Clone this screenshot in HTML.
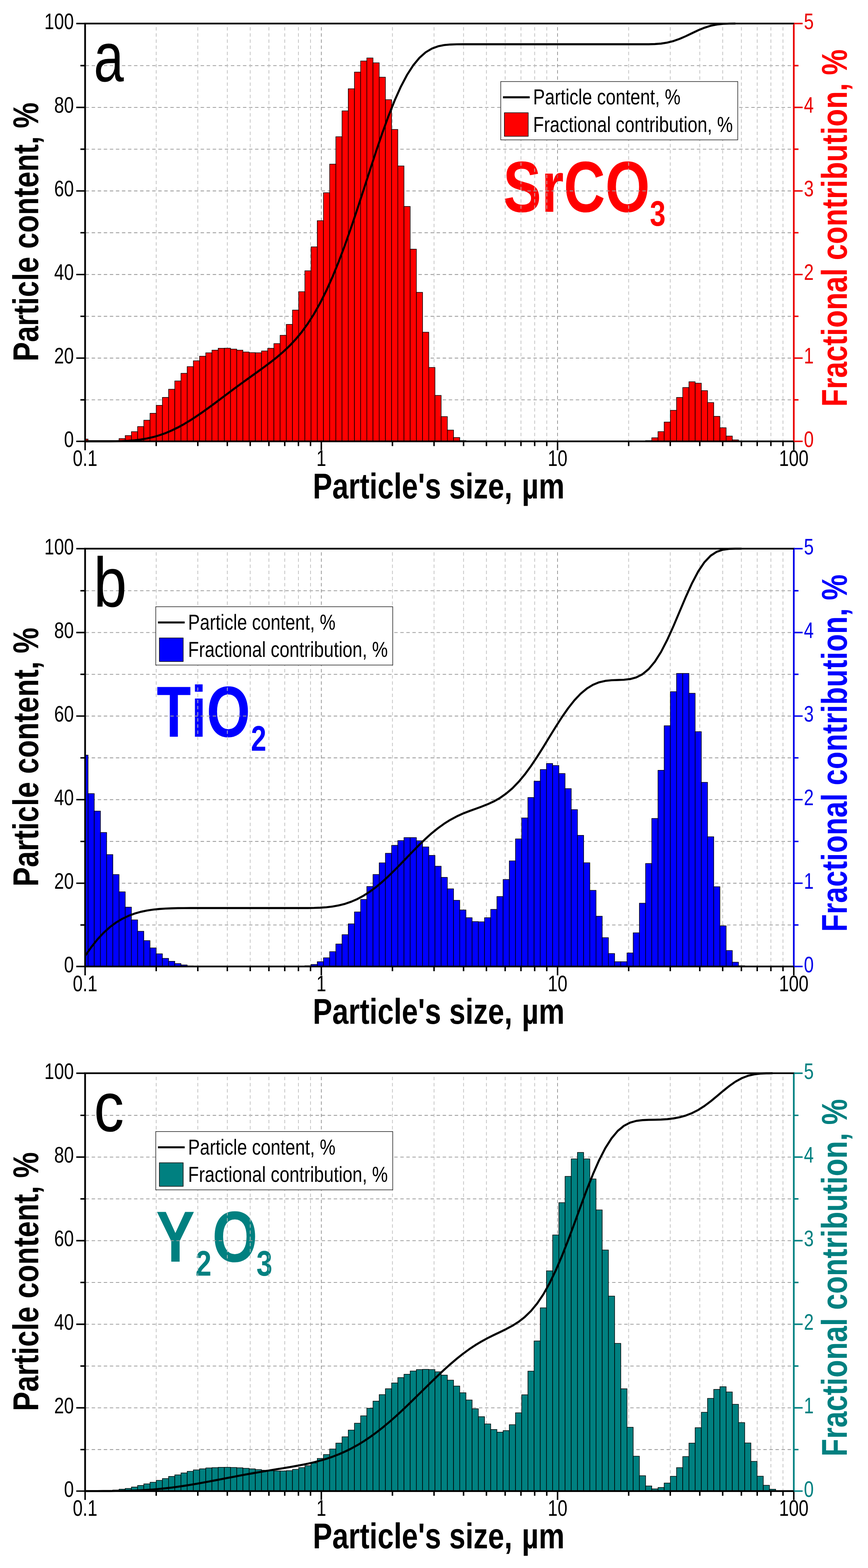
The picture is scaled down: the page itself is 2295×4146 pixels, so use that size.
<!DOCTYPE html>
<html lang="en"><head><meta charset="utf-8"><title>Particle size distributions of SrCO3, TiO2 and Y2O3</title>
<style>html,body{margin:0;padding:0;background:#fff}body{width:2295px;height:4146px}svg{display:block}text{font-kerning:none;text-rendering:geometricPrecision;font-family:"Liberation Sans",Arial,Helvetica,sans-serif}</style>
</head><body>
<svg width="2295" height="4146" viewBox="0 0 2295 4146">
<rect width="2295" height="4146" fill="#fff"/>
<g>
<text transform="translate(1330.12 559.8) scale(0.7952 1)" font-size="191" font-weight="bold" fill="#ff0000"><tspan x="0">SrCO</tspan><tspan x="488.07" dy="37" font-size="94">3</tspan></text>
<path d="M225 1057.32H2098.8M225 946.84H2098.8M225 836.36H2098.8M225 725.88H2098.8M225 615.4H2098.8M225 504.92H2098.8M225 394.44H2098.8M225 283.96H2098.8M225 173.48H2098.8" fill="none" stroke="#9c9c9c" stroke-width="2.1" stroke-dasharray="9 7" stroke-dashoffset="14.6"/>
<path d="M413.02 62.2V1167M523.01 62.2V1167M601.05 62.2V1167M661.58 62.2V1167M711.03 62.2V1167M752.85 62.2V1167M789.07 62.2V1167M821.02 62.2V1167M1037.62 62.2V1167M1147.61 62.2V1167M1225.65 62.2V1167M1286.18 62.2V1167M1335.63 62.2V1167M1377.45 62.2V1167M1413.67 62.2V1167M1445.62 62.2V1167M1662.22 62.2V1167M1772.21 62.2V1167M1850.25 62.2V1167M1910.78 62.2V1167M1960.23 62.2V1167M2002.05 62.2V1167M2038.27 62.2V1167M2070.22 62.2V1167" fill="none" stroke="#c0c0c0" stroke-width="1.9" stroke-dasharray="9.1 7.15" stroke-dashoffset="6.8"/>
<path d="M849.6 62.2V1167M1474.2 62.2V1167" fill="none" stroke="#7d7d7d" stroke-width="1.6" stroke-dasharray="9.1 7.15" stroke-dashoffset="6.8"/>
<g fill="#ff0000" stroke="#000" stroke-width="1.5">
<rect x="225" y="1161" width="7.83" height="6"/>
<rect x="298.35" y="1165.5" width="16.38" height="1.5"/>
<rect x="314.72" y="1159.6" width="16.38" height="7.4"/>
<rect x="331.1" y="1151.7" width="16.38" height="15.3"/>
<rect x="347.48" y="1141.4" width="16.38" height="25.6"/>
<rect x="363.86" y="1127.9" width="16.38" height="39.1"/>
<rect x="380.24" y="1111.1" width="16.38" height="55.9"/>
<rect x="396.62" y="1092.8" width="16.38" height="74.2"/>
<rect x="413" y="1071.8" width="16.38" height="95.2"/>
<rect x="429.38" y="1050.8" width="16.38" height="116.2"/>
<rect x="445.76" y="1029.2" width="16.38" height="137.8"/>
<rect x="462.14" y="1007.3" width="16.38" height="159.7"/>
<rect x="478.51" y="987.1" width="16.38" height="179.9"/>
<rect x="494.89" y="969.4" width="16.38" height="197.6"/>
<rect x="511.27" y="954" width="16.38" height="213"/>
<rect x="527.65" y="941.9" width="16.38" height="225.1"/>
<rect x="544.03" y="932.9" width="16.38" height="234.1"/>
<rect x="560.41" y="925.9" width="16.38" height="241.1"/>
<rect x="576.79" y="920.9" width="16.38" height="246.1"/>
<rect x="593.17" y="920.6" width="16.38" height="246.4"/>
<rect x="609.55" y="923.1" width="16.38" height="243.9"/>
<rect x="625.93" y="925.9" width="16.38" height="241.1"/>
<rect x="642.3" y="930.7" width="16.38" height="236.3"/>
<rect x="658.68" y="932.4" width="16.38" height="234.6"/>
<rect x="675.06" y="932.8" width="16.38" height="234.2"/>
<rect x="691.44" y="928" width="16.38" height="239"/>
<rect x="707.82" y="921" width="16.38" height="246"/>
<rect x="724.2" y="908.5" width="16.38" height="258.5"/>
<rect x="740.58" y="886.6" width="16.38" height="280.4"/>
<rect x="756.96" y="857.7" width="16.38" height="309.3"/>
<rect x="773.34" y="819.9" width="16.38" height="347.1"/>
<rect x="789.72" y="771.3" width="16.38" height="395.7"/>
<rect x="806.09" y="716" width="16.38" height="451"/>
<rect x="822.47" y="652.7" width="16.38" height="514.3"/>
<rect x="838.85" y="583.5" width="16.38" height="583.5"/>
<rect x="855.23" y="509.6" width="16.38" height="657.4"/>
<rect x="871.61" y="434" width="16.38" height="733"/>
<rect x="887.99" y="361.5" width="16.38" height="805.5"/>
<rect x="904.37" y="293.2" width="16.38" height="873.8"/>
<rect x="920.75" y="234.7" width="16.38" height="932.3"/>
<rect x="937.13" y="190.6" width="16.38" height="976.4"/>
<rect x="953.51" y="161.3" width="16.38" height="1005.7"/>
<rect x="969.88" y="153.3" width="16.38" height="1013.7"/>
<rect x="986.26" y="166.1" width="16.38" height="1000.9"/>
<rect x="1002.64" y="204.1" width="16.38" height="962.9"/>
<rect x="1019.02" y="263.6" width="16.38" height="903.4"/>
<rect x="1035.4" y="342.3" width="16.38" height="824.7"/>
<rect x="1051.78" y="438.8" width="16.38" height="728.2"/>
<rect x="1068.16" y="545.9" width="16.38" height="621.1"/>
<rect x="1084.54" y="658.8" width="16.38" height="508.2"/>
<rect x="1100.92" y="773" width="16.38" height="394"/>
<rect x="1117.3" y="878.4" width="16.38" height="288.6"/>
<rect x="1133.67" y="971.6" width="16.38" height="195.4"/>
<rect x="1150.05" y="1045.5" width="16.38" height="121.5"/>
<rect x="1166.43" y="1101.5" width="16.38" height="65.5"/>
<rect x="1182.81" y="1137.2" width="16.38" height="29.8"/>
<rect x="1199.19" y="1156.9" width="16.38" height="10.1"/>
<rect x="1215.57" y="1165" width="16.38" height="2"/>
<rect x="1706.94" y="1165" width="16.38" height="2"/>
<rect x="1723.32" y="1157.5" width="16.38" height="9.5"/>
<rect x="1739.7" y="1141.3" width="16.38" height="25.7"/>
<rect x="1756.08" y="1116" width="16.38" height="51"/>
<rect x="1772.46" y="1085" width="16.38" height="82"/>
<rect x="1788.83" y="1050.9" width="16.38" height="116.1"/>
<rect x="1805.21" y="1024.6" width="16.38" height="142.4"/>
<rect x="1821.59" y="1009.4" width="16.38" height="157.6"/>
<rect x="1837.97" y="1013.2" width="16.38" height="153.8"/>
<rect x="1854.35" y="1032.9" width="16.38" height="134.1"/>
<rect x="1870.73" y="1064.4" width="16.38" height="102.6"/>
<rect x="1887.11" y="1100.9" width="16.38" height="66.1"/>
<rect x="1903.49" y="1131" width="16.38" height="36"/>
<rect x="1919.87" y="1153" width="16.38" height="14"/>
<rect x="1936.25" y="1163.1" width="16.38" height="3.9"/>
</g>
<polyline points="225,1166.7 241.02,1166.7 257.4,1166.7 273.78,1166.7 290.16,1166.7 306.53,1166.62 322.91,1166.25 339.29,1165.49 355.67,1164.21 372.05,1162.25 388.43,1159.46 404.81,1155.74 421.19,1150.98 437.57,1145.17 453.95,1138.27 470.33,1130.28 486.7,1121.28 503.08,1111.4 519.46,1100.74 535.84,1089.48 552.22,1077.77 568.6,1065.71 584.98,1053.39 601.36,1041.07 617.74,1028.86 634.12,1016.8 650.49,1004.98 666.87,993.24 683.25,981.53 699.63,969.57 716.01,957.26 732.39,944.33 748.77,930.3 765.15,914.83 781.53,897.46 797.91,877.66 814.28,855.1 830.66,829.37 847.04,800.18 863.42,767.29 879.8,730.62 896.18,690.32 912.56,646.6 928.94,599.96 945.32,551.11 961.7,500.8 978.07,450.08 994.45,400.01 1010.83,351.84 1027.21,306.64 1043.59,265.38 1059.97,228.95 1076.35,197.87 1092.73,172.45 1109.11,152.74 1125.49,138.3 1141.86,128.52 1158.24,122.45 1174.62,119.17 1191,117.68 1207.38,117.17 1223.76,117.07 1240.14,117.07 1256.52,117.07 1272.9,117.07 1289.28,117.07 1305.65,117.07 1322.03,117.07 1338.41,117.07 1354.79,117.07 1371.17,117.07 1387.55,117.07 1403.93,117.07 1420.31,117.07 1436.69,117.07 1453.07,117.07 1469.44,117.07 1485.82,117.07 1502.2,117.07 1518.58,117.07 1534.96,117.07 1551.34,117.07 1567.72,117.07 1584.1,117.07 1600.48,117.07 1616.86,117.07 1633.23,117.07 1649.61,117.07 1665.99,117.07 1682.37,117.07 1698.75,117.07 1715.13,116.97 1731.51,116.5 1747.89,115.21 1764.27,112.66 1780.64,108.56 1797.02,102.75 1813.4,95.62 1829.78,87.74 1846.16,80.05 1862.54,73.34 1878.92,68.2 1895.3,64.9 1911.68,63.1 1928.06,62.4 1944.43,62.2" fill="none" stroke="#000" stroke-width="5.4" stroke-linejoin="round"/>
<path d="M201.6 1167H225M212.6 1057.32H225M201.6 946.84H225M212.6 836.36H225M201.6 725.88H225M212.6 615.4H225M201.6 504.92H225M212.6 394.44H225M201.6 283.96H225M212.6 173.48H225M201.6 62.2H225M225 1167V1190.4M413.02 1167V1179.4M523.01 1167V1179.4M601.05 1167V1179.4M661.58 1167V1179.4M711.03 1167V1179.4M752.85 1167V1179.4M789.07 1167V1179.4M821.02 1167V1179.4M849.6 1167V1190.4M1037.62 1167V1179.4M1147.61 1167V1179.4M1225.65 1167V1179.4M1286.18 1167V1179.4M1335.63 1167V1179.4M1377.45 1167V1179.4M1413.67 1167V1179.4M1445.62 1167V1179.4M1474.2 1167V1190.4M1662.22 1167V1179.4M1772.21 1167V1179.4M1850.25 1167V1179.4M1910.78 1167V1179.4M1960.23 1167V1179.4M2002.05 1167V1179.4M2038.27 1167V1179.4M2070.22 1167V1179.4M2098.8 1167V1190.4" fill="none" stroke="#000" stroke-width="3.9"/>
<path d="M225 59.9V1169.3M225 1167H2101.1M225 62.2H2101.1" fill="none" stroke="#000" stroke-width="4.6"/>
<path d="M2098.8 1167H2122.2M2098.8 1057.32H2111.2M2098.8 946.84H2122.2M2098.8 836.36H2111.2M2098.8 725.88H2122.2M2098.8 615.4H2111.2M2098.8 504.92H2122.2M2098.8 394.44H2111.2M2098.8 283.96H2122.2M2098.8 173.48H2111.2M2098.8 62.2H2122.2" fill="none" stroke="#ea0000" stroke-width="3.9"/>
<path d="M2098.8 64.5V1164.7" fill="none" stroke="#ea0000" stroke-width="4.4"/>
<text transform="translate(195.3 1182.1) scale(0.786 1)" font-size="59.5" text-anchor="end">0</text>
<text transform="translate(2125.6 1182.1) scale(0.786 1)" font-size="59.5" fill="#ea0000">0</text>
<text transform="translate(195.3 961.14) scale(0.786 1)" font-size="59.5" text-anchor="end">20</text>
<text transform="translate(2125.6 961.14) scale(0.786 1)" font-size="59.5" fill="#ea0000">1</text>
<text transform="translate(195.3 740.18) scale(0.786 1)" font-size="59.5" text-anchor="end">40</text>
<text transform="translate(2125.6 740.18) scale(0.786 1)" font-size="59.5" fill="#ea0000">2</text>
<text transform="translate(195.3 519.22) scale(0.786 1)" font-size="59.5" text-anchor="end">60</text>
<text transform="translate(2125.6 519.22) scale(0.786 1)" font-size="59.5" fill="#ea0000">3</text>
<text transform="translate(195.3 298.26) scale(0.786 1)" font-size="59.5" text-anchor="end">80</text>
<text transform="translate(2125.6 298.26) scale(0.786 1)" font-size="59.5" fill="#ea0000">4</text>
<text transform="translate(195.3 77.3) scale(0.786 1)" font-size="59.5" text-anchor="end">100</text>
<text transform="translate(2125.6 77.3) scale(0.786 1)" font-size="59.5" fill="#ea0000">5</text>
<text transform="translate(225 1232) scale(0.786 1)" font-size="59.5" text-anchor="middle">0.1</text>
<text transform="translate(849.6 1232) scale(0.786 1)" font-size="59.5" text-anchor="middle">1</text>
<text transform="translate(1474.2 1232) scale(0.786 1)" font-size="59.5" text-anchor="middle">10</text>
<text transform="translate(2098.8 1232) scale(0.786 1)" font-size="59.5" text-anchor="middle">100</text>
<text transform="translate(101.2 955.52) rotate(-90) scale(0.8055 1)" font-size="95" font-weight="bold">Particle content, %</text>
<text transform="translate(2239.4 1075.53) rotate(-90) scale(0.8067 1)" font-size="95" font-weight="bold" fill="#ff0000">Fractional contribution, %</text>
<text transform="translate(827.05 1318.4) scale(0.8102 1)" font-size="95" font-weight="bold">Particle&#39;s size, <tspan dx="4.86">µm</tspan></text>
<text transform="translate(247.83 215.2) scale(0.7703 1)" font-size="185.5">a</text>
<rect x="1324" y="215.6" width="626.6" height="154.2" fill="#fff" stroke="#222" stroke-width="1.6"/>
<path d="M1329.8 257.2H1400.5" stroke="#000" stroke-width="5.4"/>
<rect x="1333.6" y="298.1" width="63" height="62.3" fill="#ff0000" stroke="#000" stroke-width="1.5"/>
<text transform="translate(1409.57 276.1) scale(0.813 1)" font-size="57.5">Particle content, %</text>
<text transform="translate(1409.56 348.6) scale(0.814 1)" font-size="57.5">Fractional contribution, %</text>
</g>
<g>
<text transform="translate(414.33 1948.3) scale(0.7769 1)" font-size="191" font-weight="bold" fill="#0000ff"><tspan x="0">TiO</tspan><tspan x="320.88" dy="37" font-size="94">2</tspan></text>
<path d="M225 2445.82H2098.8M225 2335.34H2098.8M225 2224.86H2098.8M225 2114.38H2098.8M225 2003.9H2098.8M225 1893.42H2098.8M225 1782.94H2098.8M225 1672.46H2098.8M225 1561.98H2098.8" fill="none" stroke="#9c9c9c" stroke-width="2.1" stroke-dasharray="9 7" stroke-dashoffset="14.6"/>
<path d="M413.02 1450.7V2555.5M523.01 1450.7V2555.5M601.05 1450.7V2555.5M661.58 1450.7V2555.5M711.03 1450.7V2555.5M752.85 1450.7V2555.5M789.07 1450.7V2555.5M821.02 1450.7V2555.5M1037.62 1450.7V2555.5M1147.61 1450.7V2555.5M1225.65 1450.7V2555.5M1286.18 1450.7V2555.5M1335.63 1450.7V2555.5M1377.45 1450.7V2555.5M1413.67 1450.7V2555.5M1445.62 1450.7V2555.5M1662.22 1450.7V2555.5M1772.21 1450.7V2555.5M1850.25 1450.7V2555.5M1910.78 1450.7V2555.5M1960.23 1450.7V2555.5M2002.05 1450.7V2555.5M2038.27 1450.7V2555.5M2070.22 1450.7V2555.5" fill="none" stroke="#c0c0c0" stroke-width="1.9" stroke-dasharray="9.1 7.15" stroke-dashoffset="6.8"/>
<path d="M849.6 1450.7V2555.5M1474.2 1450.7V2555.5" fill="none" stroke="#7d7d7d" stroke-width="1.6" stroke-dasharray="9.1 7.15" stroke-dashoffset="6.8"/>
<g fill="#0000ff" stroke="#000" stroke-width="1.5">
<rect x="225" y="1996.6" width="7.83" height="558.9"/>
<rect x="232.83" y="2098.4" width="16.38" height="457.1"/>
<rect x="249.21" y="2144.6" width="16.38" height="410.9"/>
<rect x="265.59" y="2201.2" width="16.38" height="354.3"/>
<rect x="281.97" y="2259.7" width="16.38" height="295.8"/>
<rect x="298.35" y="2312.4" width="16.38" height="243.1"/>
<rect x="314.72" y="2358.1" width="16.38" height="197.4"/>
<rect x="331.1" y="2398.6" width="16.38" height="156.9"/>
<rect x="347.48" y="2432.3" width="16.38" height="123.2"/>
<rect x="363.86" y="2462.4" width="16.38" height="93.1"/>
<rect x="380.24" y="2487.1" width="16.38" height="68.4"/>
<rect x="396.62" y="2506.4" width="16.38" height="49.1"/>
<rect x="413" y="2522" width="16.38" height="33.5"/>
<rect x="429.38" y="2534.1" width="16.38" height="21.4"/>
<rect x="445.76" y="2541.8" width="16.38" height="13.7"/>
<rect x="462.14" y="2547.8" width="16.38" height="7.7"/>
<rect x="478.51" y="2551.4" width="16.38" height="4.1"/>
<rect x="494.89" y="2554" width="16.38" height="1.5"/>
<rect x="806.09" y="2553.5" width="16.38" height="2"/>
<rect x="822.47" y="2550.2" width="16.38" height="5.3"/>
<rect x="838.85" y="2542.9" width="16.38" height="12.6"/>
<rect x="855.23" y="2532.5" width="16.38" height="23"/>
<rect x="871.61" y="2516.3" width="16.38" height="39.2"/>
<rect x="887.99" y="2496.1" width="16.38" height="59.4"/>
<rect x="904.37" y="2471.4" width="16.38" height="84.1"/>
<rect x="920.75" y="2442.8" width="16.38" height="112.7"/>
<rect x="937.13" y="2411.3" width="16.38" height="144.2"/>
<rect x="953.51" y="2378.2" width="16.38" height="177.3"/>
<rect x="969.88" y="2344" width="16.38" height="211.5"/>
<rect x="986.26" y="2312.3" width="16.38" height="243.2"/>
<rect x="1002.64" y="2281.5" width="16.38" height="274"/>
<rect x="1019.02" y="2256.2" width="16.38" height="299.3"/>
<rect x="1035.4" y="2235.2" width="16.38" height="320.3"/>
<rect x="1051.78" y="2222.6" width="16.38" height="332.9"/>
<rect x="1068.16" y="2214.7" width="16.38" height="340.8"/>
<rect x="1084.54" y="2214.7" width="16.38" height="340.8"/>
<rect x="1100.92" y="2223.1" width="16.38" height="332.4"/>
<rect x="1117.3" y="2239.4" width="16.38" height="316.1"/>
<rect x="1133.67" y="2261.8" width="16.38" height="293.7"/>
<rect x="1150.05" y="2290.4" width="16.38" height="265.1"/>
<rect x="1166.43" y="2319.9" width="16.38" height="235.6"/>
<rect x="1182.81" y="2350.2" width="16.38" height="205.3"/>
<rect x="1199.19" y="2380.5" width="16.38" height="175"/>
<rect x="1215.57" y="2406" width="16.38" height="149.5"/>
<rect x="1231.95" y="2426.5" width="16.38" height="129"/>
<rect x="1248.33" y="2436.8" width="16.38" height="118.7"/>
<rect x="1264.71" y="2437.4" width="16.38" height="118.1"/>
<rect x="1281.09" y="2426.5" width="16.38" height="129"/>
<rect x="1297.46" y="2404.5" width="16.38" height="151"/>
<rect x="1313.84" y="2370.5" width="16.38" height="185"/>
<rect x="1330.22" y="2325.5" width="16.38" height="230"/>
<rect x="1346.6" y="2276.3" width="16.38" height="279.2"/>
<rect x="1362.98" y="2218.2" width="16.38" height="337.3"/>
<rect x="1379.36" y="2162.7" width="16.38" height="392.8"/>
<rect x="1395.74" y="2108.7" width="16.38" height="446.8"/>
<rect x="1412.12" y="2065.5" width="16.38" height="490"/>
<rect x="1428.5" y="2034.7" width="16.38" height="520.8"/>
<rect x="1444.88" y="2018.8" width="16.38" height="536.7"/>
<rect x="1461.25" y="2024.1" width="16.38" height="531.4"/>
<rect x="1477.63" y="2045.3" width="16.38" height="510.2"/>
<rect x="1494.01" y="2085.2" width="16.38" height="470.3"/>
<rect x="1510.39" y="2140.7" width="16.38" height="414.8"/>
<rect x="1526.77" y="2208.8" width="16.38" height="346.7"/>
<rect x="1543.15" y="2281.3" width="16.38" height="274.2"/>
<rect x="1559.53" y="2354.2" width="16.38" height="201.3"/>
<rect x="1575.91" y="2422.6" width="16.38" height="132.9"/>
<rect x="1592.29" y="2479.3" width="16.38" height="76.2"/>
<rect x="1608.67" y="2521.3" width="16.38" height="34.2"/>
<rect x="1625.04" y="2542.9" width="16.38" height="12.6"/>
<rect x="1641.42" y="2542.9" width="16.38" height="12.6"/>
<rect x="1657.8" y="2519.7" width="16.38" height="35.8"/>
<rect x="1674.18" y="2466.5" width="16.38" height="89"/>
<rect x="1690.56" y="2388.2" width="16.38" height="167.3"/>
<rect x="1706.94" y="2283.2" width="16.38" height="272.3"/>
<rect x="1723.32" y="2164.1" width="16.38" height="391.4"/>
<rect x="1739.7" y="2036.8" width="16.38" height="518.7"/>
<rect x="1756.08" y="1919" width="16.38" height="636.5"/>
<rect x="1772.46" y="1828.9" width="16.38" height="726.6"/>
<rect x="1788.83" y="1780.6" width="16.38" height="774.9"/>
<rect x="1805.21" y="1780.6" width="16.38" height="774.9"/>
<rect x="1821.59" y="1833.1" width="16.38" height="722.4"/>
<rect x="1837.97" y="1934.6" width="16.38" height="620.9"/>
<rect x="1854.35" y="2068.6" width="16.38" height="486.9"/>
<rect x="1870.73" y="2212.5" width="16.38" height="343"/>
<rect x="1887.11" y="2344.6" width="16.38" height="210.9"/>
<rect x="1903.49" y="2448.1" width="16.38" height="107.4"/>
<rect x="1919.87" y="2513.3" width="16.38" height="42.2"/>
<rect x="1936.25" y="2544.2" width="16.38" height="11.3"/>
<rect x="1952.62" y="2553.5" width="16.38" height="2"/>
</g>
<polyline points="225,2527.56 241.02,2504.71 257.4,2484.17 273.78,2466.46 290.16,2451.68 306.53,2439.52 322.91,2429.66 339.29,2421.81 355.67,2415.66 372.05,2411 388.43,2407.58 404.81,2405.13 421.19,2403.45 437.57,2402.38 453.95,2401.7 470.33,2401.31 486.7,2401.11 503.08,2401.03 519.46,2401.03 535.84,2401.03 552.22,2401.03 568.6,2401.03 584.98,2401.03 601.36,2401.03 617.74,2401.03 634.12,2401.03 650.49,2401.03 666.87,2401.03 683.25,2401.03 699.63,2401.03 716.01,2401.03 732.39,2401.03 748.77,2401.03 765.15,2401.03 781.53,2401.03 797.91,2401.03 814.28,2400.93 830.66,2400.67 847.04,2400.04 863.42,2398.89 879.8,2396.93 896.18,2393.96 912.56,2389.76 928.94,2384.12 945.32,2376.92 961.7,2368.05 978.07,2357.48 994.45,2345.32 1010.83,2331.63 1027.21,2316.67 1043.59,2300.65 1059.97,2284.01 1076.35,2266.98 1092.73,2249.94 1109.11,2233.33 1125.49,2217.53 1141.86,2202.84 1158.24,2189.59 1174.62,2177.82 1191,2167.55 1207.38,2158.81 1223.76,2151.33 1240.14,2144.88 1256.52,2138.95 1272.9,2133.05 1289.28,2126.6 1305.65,2119.05 1322.03,2109.8 1338.41,2098.31 1354.79,2084.35 1371.17,2067.49 1387.55,2047.85 1403.93,2025.52 1420.31,2001.03 1436.69,1974.99 1453.07,1948.16 1469.44,1921.6 1485.82,1896.1 1502.2,1872.59 1518.58,1851.85 1534.96,1834.52 1551.34,1820.82 1567.72,1810.75 1584.1,1804.11 1600.48,1800.3 1616.86,1798.59 1633.23,1797.96 1649.61,1797.33 1665.99,1795.54 1682.37,1791.09 1698.75,1782.73 1715.13,1769.12 1731.51,1749.55 1747.89,1723.63 1764.27,1691.81 1780.64,1655.49 1797.02,1616.75 1813.4,1578.02 1829.78,1541.91 1846.16,1510.87 1862.54,1486.53 1878.92,1469.39 1895.3,1458.84 1911.68,1453.47 1928.06,1451.36 1944.43,1450.8 1960.81,1450.7" fill="none" stroke="#000" stroke-width="5.4" stroke-linejoin="round"/>
<path d="M201.6 2555.5H225M212.6 2445.82H225M201.6 2335.34H225M212.6 2224.86H225M201.6 2114.38H225M212.6 2003.9H225M201.6 1893.42H225M212.6 1782.94H225M201.6 1672.46H225M212.6 1561.98H225M201.6 1450.7H225M225 2555.5V2578.9M413.02 2555.5V2567.9M523.01 2555.5V2567.9M601.05 2555.5V2567.9M661.58 2555.5V2567.9M711.03 2555.5V2567.9M752.85 2555.5V2567.9M789.07 2555.5V2567.9M821.02 2555.5V2567.9M849.6 2555.5V2578.9M1037.62 2555.5V2567.9M1147.61 2555.5V2567.9M1225.65 2555.5V2567.9M1286.18 2555.5V2567.9M1335.63 2555.5V2567.9M1377.45 2555.5V2567.9M1413.67 2555.5V2567.9M1445.62 2555.5V2567.9M1474.2 2555.5V2578.9M1662.22 2555.5V2567.9M1772.21 2555.5V2567.9M1850.25 2555.5V2567.9M1910.78 2555.5V2567.9M1960.23 2555.5V2567.9M2002.05 2555.5V2567.9M2038.27 2555.5V2567.9M2070.22 2555.5V2567.9M2098.8 2555.5V2578.9" fill="none" stroke="#000" stroke-width="3.9"/>
<path d="M225 1448.4V2557.8M225 2555.5H2101.1M225 1450.7H2101.1" fill="none" stroke="#000" stroke-width="4.6"/>
<path d="M2098.8 2555.5H2122.2M2098.8 2445.82H2111.2M2098.8 2335.34H2122.2M2098.8 2224.86H2111.2M2098.8 2114.38H2122.2M2098.8 2003.9H2111.2M2098.8 1893.42H2122.2M2098.8 1782.94H2111.2M2098.8 1672.46H2122.2M2098.8 1561.98H2111.2M2098.8 1450.7H2122.2" fill="none" stroke="#0000ea" stroke-width="3.9"/>
<path d="M2098.8 1453V2553.2" fill="none" stroke="#0000ea" stroke-width="4.4"/>
<text transform="translate(195.3 2570.6) scale(0.786 1)" font-size="59.5" text-anchor="end">0</text>
<text transform="translate(2125.6 2570.6) scale(0.786 1)" font-size="59.5" fill="#0000ea">0</text>
<text transform="translate(195.3 2349.64) scale(0.786 1)" font-size="59.5" text-anchor="end">20</text>
<text transform="translate(2125.6 2349.64) scale(0.786 1)" font-size="59.5" fill="#0000ea">1</text>
<text transform="translate(195.3 2128.68) scale(0.786 1)" font-size="59.5" text-anchor="end">40</text>
<text transform="translate(2125.6 2128.68) scale(0.786 1)" font-size="59.5" fill="#0000ea">2</text>
<text transform="translate(195.3 1907.72) scale(0.786 1)" font-size="59.5" text-anchor="end">60</text>
<text transform="translate(2125.6 1907.72) scale(0.786 1)" font-size="59.5" fill="#0000ea">3</text>
<text transform="translate(195.3 1686.76) scale(0.786 1)" font-size="59.5" text-anchor="end">80</text>
<text transform="translate(2125.6 1686.76) scale(0.786 1)" font-size="59.5" fill="#0000ea">4</text>
<text transform="translate(195.3 1465.8) scale(0.786 1)" font-size="59.5" text-anchor="end">100</text>
<text transform="translate(2125.6 1465.8) scale(0.786 1)" font-size="59.5" fill="#0000ea">5</text>
<text transform="translate(225 2620.5) scale(0.786 1)" font-size="59.5" text-anchor="middle">0.1</text>
<text transform="translate(849.6 2620.5) scale(0.786 1)" font-size="59.5" text-anchor="middle">1</text>
<text transform="translate(1474.2 2620.5) scale(0.786 1)" font-size="59.5" text-anchor="middle">10</text>
<text transform="translate(2098.8 2620.5) scale(0.786 1)" font-size="59.5" text-anchor="middle">100</text>
<text transform="translate(101.2 2344.02) rotate(-90) scale(0.8055 1)" font-size="95" font-weight="bold">Particle content, %</text>
<text transform="translate(2239.4 2464.03) rotate(-90) scale(0.8067 1)" font-size="95" font-weight="bold" fill="#0000ff">Fractional contribution, %</text>
<text transform="translate(827.05 2706.9) scale(0.8102 1)" font-size="95" font-weight="bold">Particle&#39;s size, <tspan dx="4.86">µm</tspan></text>
<text transform="translate(247.2 1603.7) scale(0.8535 1)" font-size="185.5">b</text>
<rect x="411.8" y="1604.3" width="626.6" height="154.2" fill="#fff" stroke="#222" stroke-width="1.6"/>
<path d="M417.6 1645.9H488.3" stroke="#000" stroke-width="5.4"/>
<rect x="421.4" y="1686.8" width="63" height="62.3" fill="#0000ff" stroke="#000" stroke-width="1.5"/>
<text transform="translate(497.37 1664.8) scale(0.813 1)" font-size="57.5">Particle content, %</text>
<text transform="translate(497.36 1737.3) scale(0.814 1)" font-size="57.5">Fractional contribution, %</text>
</g>
<g>
<text transform="translate(413.37 3336.4) scale(0.8059 1)" font-size="191" font-weight="bold" fill="#008080"><tspan x="-0.96">Y</tspan><tspan x="128.58" dy="37" font-size="94">2</tspan><tspan x="183.52" dy="-37">O</tspan><tspan x="328.42" dy="37" font-size="94">3</tspan></text>
<path d="M225 3832.92H2098.8M225 3722.44H2098.8M225 3611.96H2098.8M225 3501.48H2098.8M225 3391H2098.8M225 3280.52H2098.8M225 3170.04H2098.8M225 3059.56H2098.8M225 2949.08H2098.8" fill="none" stroke="#9c9c9c" stroke-width="2.1" stroke-dasharray="9 7" stroke-dashoffset="14.6"/>
<path d="M413.02 2837.8V3942.6M523.01 2837.8V3942.6M601.05 2837.8V3942.6M661.58 2837.8V3942.6M711.03 2837.8V3942.6M752.85 2837.8V3942.6M789.07 2837.8V3942.6M821.02 2837.8V3942.6M1037.62 2837.8V3942.6M1147.61 2837.8V3942.6M1225.65 2837.8V3942.6M1286.18 2837.8V3942.6M1335.63 2837.8V3942.6M1377.45 2837.8V3942.6M1413.67 2837.8V3942.6M1445.62 2837.8V3942.6M1662.22 2837.8V3942.6M1772.21 2837.8V3942.6M1850.25 2837.8V3942.6M1910.78 2837.8V3942.6M1960.23 2837.8V3942.6M2002.05 2837.8V3942.6M2038.27 2837.8V3942.6M2070.22 2837.8V3942.6" fill="none" stroke="#c0c0c0" stroke-width="1.9" stroke-dasharray="9.1 7.15" stroke-dashoffset="6.8"/>
<path d="M849.6 2837.8V3942.6M1474.2 2837.8V3942.6" fill="none" stroke="#7d7d7d" stroke-width="1.6" stroke-dasharray="9.1 7.15" stroke-dashoffset="6.8"/>
<g fill="#008080" stroke="#000" stroke-width="1.5">
<rect x="281.97" y="3941.1" width="16.38" height="1.5"/>
<rect x="298.35" y="3939.8" width="16.38" height="2.8"/>
<rect x="314.72" y="3937.6" width="16.38" height="5"/>
<rect x="331.1" y="3935.6" width="16.38" height="7"/>
<rect x="347.48" y="3931.9" width="16.38" height="10.7"/>
<rect x="363.86" y="3927.7" width="16.38" height="14.9"/>
<rect x="380.24" y="3923.5" width="16.38" height="19.1"/>
<rect x="396.62" y="3919.3" width="16.38" height="23.3"/>
<rect x="413" y="3914.3" width="16.38" height="28.3"/>
<rect x="429.38" y="3909.5" width="16.38" height="33.1"/>
<rect x="445.76" y="3903.9" width="16.38" height="38.7"/>
<rect x="462.14" y="3899.7" width="16.38" height="42.9"/>
<rect x="478.51" y="3894.6" width="16.38" height="48"/>
<rect x="494.89" y="3890.4" width="16.38" height="52.2"/>
<rect x="511.27" y="3886.5" width="16.38" height="56.1"/>
<rect x="527.65" y="3883.7" width="16.38" height="58.9"/>
<rect x="544.03" y="3881.4" width="16.38" height="61.2"/>
<rect x="560.41" y="3880.6" width="16.38" height="62"/>
<rect x="576.79" y="3879.8" width="16.38" height="62.8"/>
<rect x="593.17" y="3879.7" width="16.38" height="62.9"/>
<rect x="609.55" y="3880.2" width="16.38" height="62.4"/>
<rect x="625.93" y="3881" width="16.38" height="61.6"/>
<rect x="642.3" y="3882.4" width="16.38" height="60.2"/>
<rect x="658.68" y="3883.8" width="16.38" height="58.8"/>
<rect x="675.06" y="3885.8" width="16.38" height="56.8"/>
<rect x="691.44" y="3887.5" width="16.38" height="55.1"/>
<rect x="707.82" y="3888.6" width="16.38" height="54"/>
<rect x="724.2" y="3889.4" width="16.38" height="53.2"/>
<rect x="740.58" y="3889.4" width="16.38" height="53.2"/>
<rect x="756.96" y="3888.6" width="16.38" height="54"/>
<rect x="773.34" y="3885.2" width="16.38" height="57.4"/>
<rect x="789.72" y="3880.5" width="16.38" height="62.1"/>
<rect x="806.09" y="3875.4" width="16.38" height="67.2"/>
<rect x="822.47" y="3868.4" width="16.38" height="74.2"/>
<rect x="838.85" y="3856.3" width="16.38" height="86.3"/>
<rect x="855.23" y="3846" width="16.38" height="96.6"/>
<rect x="871.61" y="3831.4" width="16.38" height="111.2"/>
<rect x="887.99" y="3815.7" width="16.38" height="126.9"/>
<rect x="904.37" y="3799.1" width="16.38" height="143.5"/>
<rect x="920.75" y="3781.4" width="16.38" height="161.2"/>
<rect x="937.13" y="3763.2" width="16.38" height="179.4"/>
<rect x="953.51" y="3743.6" width="16.38" height="199"/>
<rect x="969.88" y="3723.6" width="16.38" height="219"/>
<rect x="986.26" y="3704.8" width="16.38" height="237.8"/>
<rect x="1002.64" y="3687.6" width="16.38" height="255"/>
<rect x="1019.02" y="3672" width="16.38" height="270.6"/>
<rect x="1035.4" y="3656.7" width="16.38" height="285.9"/>
<rect x="1051.78" y="3642.5" width="16.38" height="300.1"/>
<rect x="1068.16" y="3633.7" width="16.38" height="308.9"/>
<rect x="1084.54" y="3625.2" width="16.38" height="317.4"/>
<rect x="1100.92" y="3621.3" width="16.38" height="321.3"/>
<rect x="1117.3" y="3620.7" width="16.38" height="321.9"/>
<rect x="1133.67" y="3621.3" width="16.38" height="321.3"/>
<rect x="1150.05" y="3627.2" width="16.38" height="315.4"/>
<rect x="1166.43" y="3636" width="16.38" height="306.6"/>
<rect x="1182.81" y="3649.3" width="16.38" height="293.3"/>
<rect x="1199.19" y="3664.9" width="16.38" height="277.7"/>
<rect x="1215.57" y="3682.6" width="16.38" height="260"/>
<rect x="1231.95" y="3701.7" width="16.38" height="240.9"/>
<rect x="1248.33" y="3725" width="16.38" height="217.6"/>
<rect x="1264.71" y="3745.9" width="16.38" height="196.7"/>
<rect x="1281.09" y="3765.1" width="16.38" height="177.5"/>
<rect x="1297.46" y="3779.8" width="16.38" height="162.8"/>
<rect x="1313.84" y="3786.9" width="16.38" height="155.7"/>
<rect x="1330.22" y="3782.7" width="16.38" height="159.9"/>
<rect x="1346.6" y="3767.1" width="16.38" height="175.5"/>
<rect x="1362.98" y="3735.6" width="16.38" height="207"/>
<rect x="1379.36" y="3688" width="16.38" height="254.6"/>
<rect x="1395.74" y="3625.5" width="16.38" height="317.1"/>
<rect x="1412.12" y="3545.6" width="16.38" height="397"/>
<rect x="1428.5" y="3458.1" width="16.38" height="484.5"/>
<rect x="1444.88" y="3360.3" width="16.38" height="582.3"/>
<rect x="1461.25" y="3265.4" width="16.38" height="677.2"/>
<rect x="1477.63" y="3180" width="16.38" height="762.6"/>
<rect x="1494.01" y="3110.5" width="16.38" height="832.1"/>
<rect x="1510.39" y="3064.3" width="16.38" height="878.3"/>
<rect x="1526.77" y="3047.2" width="16.38" height="895.4"/>
<rect x="1543.15" y="3064.3" width="16.38" height="878.3"/>
<rect x="1559.53" y="3117.3" width="16.38" height="825.3"/>
<rect x="1575.91" y="3199.2" width="16.38" height="743.4"/>
<rect x="1592.29" y="3305.2" width="16.38" height="637.4"/>
<rect x="1608.67" y="3427.1" width="16.38" height="515.5"/>
<rect x="1625.04" y="3552.1" width="16.38" height="390.5"/>
<rect x="1641.42" y="3672.1" width="16.38" height="270.5"/>
<rect x="1657.8" y="3773.9" width="16.38" height="168.7"/>
<rect x="1674.18" y="3850.4" width="16.38" height="92.2"/>
<rect x="1690.56" y="3902" width="16.38" height="40.6"/>
<rect x="1706.94" y="3929.1" width="16.38" height="13.5"/>
<rect x="1723.32" y="3936.8" width="16.38" height="5.8"/>
<rect x="1739.7" y="3933.1" width="16.38" height="9.5"/>
<rect x="1756.08" y="3921.4" width="16.38" height="21.2"/>
<rect x="1772.46" y="3903.5" width="16.38" height="39.1"/>
<rect x="1788.83" y="3880.6" width="16.38" height="62"/>
<rect x="1805.21" y="3851.3" width="16.38" height="91.3"/>
<rect x="1821.59" y="3815.8" width="16.38" height="126.8"/>
<rect x="1837.97" y="3775" width="16.38" height="167.6"/>
<rect x="1854.35" y="3734.3" width="16.38" height="208.3"/>
<rect x="1870.73" y="3697.5" width="16.38" height="245.1"/>
<rect x="1887.11" y="3673.7" width="16.38" height="268.9"/>
<rect x="1903.49" y="3666.6" width="16.38" height="276"/>
<rect x="1919.87" y="3680.5" width="16.38" height="262.1"/>
<rect x="1936.25" y="3713.2" width="16.38" height="229.4"/>
<rect x="1952.62" y="3761.5" width="16.38" height="181.1"/>
<rect x="1969" y="3815.4" width="16.38" height="127.2"/>
<rect x="1985.38" y="3864.1" width="16.38" height="78.5"/>
<rect x="2001.76" y="3903.3" width="16.38" height="39.3"/>
<rect x="2018.14" y="3927.3" width="16.38" height="15.3"/>
<rect x="2034.52" y="3937.7" width="16.38" height="4.9"/>
</g>
<polyline points="225,3942.6 241.02,3942.6 257.4,3942.6 273.78,3942.57 290.16,3942.5 306.53,3942.36 322.91,3942.11 339.29,3941.76 355.67,3941.22 372.05,3940.48 388.43,3939.52 404.81,3938.35 421.19,3936.93 437.57,3935.27 453.95,3933.34 470.33,3931.19 486.7,3928.78 503.08,3926.16 519.46,3923.35 535.84,3920.4 552.22,3917.34 568.6,3914.23 584.98,3911.08 601.36,3907.93 617.74,3904.8 634.12,3901.72 650.49,3898.7 666.87,3895.75 683.25,3892.91 699.63,3890.15 716.01,3887.44 732.39,3884.78 748.77,3882.11 765.15,3879.4 781.53,3876.53 797.91,3873.42 814.28,3870.05 830.66,3866.33 847.04,3862.01 863.42,3857.17 879.8,3851.59 896.18,3845.24 912.56,3838.04 928.94,3829.97 945.32,3820.98 961.7,3811.01 978.07,3800.03 994.45,3788.12 1010.83,3775.34 1027.21,3761.78 1043.59,3747.45 1059.97,3732.42 1076.35,3716.94 1092.73,3701.03 1109.11,3684.93 1125.49,3668.81 1141.86,3652.71 1158.24,3636.9 1174.62,3621.54 1191,3606.84 1207.38,3592.93 1223.76,3579.9 1240.14,3567.83 1256.52,3556.92 1272.9,3547.07 1289.28,3538.17 1305.65,3530.02 1322.03,3522.21 1338.41,3514.2 1354.79,3505.41 1371.17,3495.04 1387.55,3482.28 1403.93,3466.39 1420.31,3446.5 1436.69,3422.22 1453.07,3393.04 1469.44,3359.11 1485.82,3320.9 1502.2,3279.2 1518.58,3235.19 1534.96,3190.32 1551.34,3146.31 1567.72,3104.96 1584.1,3067.71 1600.48,3035.77 1616.86,3009.94 1633.23,2990.37 1649.61,2976.82 1665.99,2968.37 1682.37,2963.75 1698.75,2961.71 1715.13,2961.04 1731.51,2960.74 1747.89,2960.27 1764.27,2959.21 1780.64,2957.25 1797.02,2954.14 1813.4,2949.57 1829.78,2943.21 1846.16,2934.81 1862.54,2924.38 1878.92,2912.1 1895.3,2898.62 1911.68,2884.79 1928.06,2871.66 1944.43,2860.16 1960.81,2851.09 1977.19,2844.71 1993.57,2840.78 2009.95,2838.81 2026.33,2838.05 2042.71,2837.8" fill="none" stroke="#000" stroke-width="5.4" stroke-linejoin="round"/>
<path d="M201.6 3942.6H225M212.6 3832.92H225M201.6 3722.44H225M212.6 3611.96H225M201.6 3501.48H225M212.6 3391H225M201.6 3280.52H225M212.6 3170.04H225M201.6 3059.56H225M212.6 2949.08H225M201.6 2837.8H225M225 3942.6V3966M413.02 3942.6V3955M523.01 3942.6V3955M601.05 3942.6V3955M661.58 3942.6V3955M711.03 3942.6V3955M752.85 3942.6V3955M789.07 3942.6V3955M821.02 3942.6V3955M849.6 3942.6V3966M1037.62 3942.6V3955M1147.61 3942.6V3955M1225.65 3942.6V3955M1286.18 3942.6V3955M1335.63 3942.6V3955M1377.45 3942.6V3955M1413.67 3942.6V3955M1445.62 3942.6V3955M1474.2 3942.6V3966M1662.22 3942.6V3955M1772.21 3942.6V3955M1850.25 3942.6V3955M1910.78 3942.6V3955M1960.23 3942.6V3955M2002.05 3942.6V3955M2038.27 3942.6V3955M2070.22 3942.6V3955M2098.8 3942.6V3966" fill="none" stroke="#000" stroke-width="3.9"/>
<path d="M225 2835.5V3944.9M225 3942.6H2101.1M225 2837.8H2101.1" fill="none" stroke="#000" stroke-width="4.6"/>
<path d="M2098.8 3942.6H2122.2M2098.8 3832.92H2111.2M2098.8 3722.44H2122.2M2098.8 3611.96H2111.2M2098.8 3501.48H2122.2M2098.8 3391H2111.2M2098.8 3280.52H2122.2M2098.8 3170.04H2111.2M2098.8 3059.56H2122.2M2098.8 2949.08H2111.2M2098.8 2837.8H2122.2" fill="none" stroke="#008080" stroke-width="3.9"/>
<path d="M2098.8 2840.1V3940.3" fill="none" stroke="#008080" stroke-width="4.4"/>
<text transform="translate(195.3 3957.7) scale(0.786 1)" font-size="59.5" text-anchor="end">0</text>
<text transform="translate(2125.6 3957.7) scale(0.786 1)" font-size="59.5" fill="#008080">0</text>
<text transform="translate(195.3 3736.74) scale(0.786 1)" font-size="59.5" text-anchor="end">20</text>
<text transform="translate(2125.6 3736.74) scale(0.786 1)" font-size="59.5" fill="#008080">1</text>
<text transform="translate(195.3 3515.78) scale(0.786 1)" font-size="59.5" text-anchor="end">40</text>
<text transform="translate(2125.6 3515.78) scale(0.786 1)" font-size="59.5" fill="#008080">2</text>
<text transform="translate(195.3 3294.82) scale(0.786 1)" font-size="59.5" text-anchor="end">60</text>
<text transform="translate(2125.6 3294.82) scale(0.786 1)" font-size="59.5" fill="#008080">3</text>
<text transform="translate(195.3 3073.86) scale(0.786 1)" font-size="59.5" text-anchor="end">80</text>
<text transform="translate(2125.6 3073.86) scale(0.786 1)" font-size="59.5" fill="#008080">4</text>
<text transform="translate(195.3 2852.9) scale(0.786 1)" font-size="59.5" text-anchor="end">100</text>
<text transform="translate(2125.6 2852.9) scale(0.786 1)" font-size="59.5" fill="#008080">5</text>
<text transform="translate(225 4007.6) scale(0.786 1)" font-size="59.5" text-anchor="middle">0.1</text>
<text transform="translate(849.6 4007.6) scale(0.786 1)" font-size="59.5" text-anchor="middle">1</text>
<text transform="translate(1474.2 4007.6) scale(0.786 1)" font-size="59.5" text-anchor="middle">10</text>
<text transform="translate(2098.8 4007.6) scale(0.786 1)" font-size="59.5" text-anchor="middle">100</text>
<text transform="translate(101.2 3731.12) rotate(-90) scale(0.8055 1)" font-size="95" font-weight="bold">Particle content, %</text>
<text transform="translate(2239.4 3851.13) rotate(-90) scale(0.8067 1)" font-size="95" font-weight="bold" fill="#008080">Fractional contribution, %</text>
<text transform="translate(827.05 4094) scale(0.8102 1)" font-size="95" font-weight="bold">Particle&#39;s size, <tspan dx="4.86">µm</tspan></text>
<text transform="translate(248.23 2990.8) scale(0.859 1)" font-size="185.5">c</text>
<rect x="411.8" y="2992" width="626.6" height="154.2" fill="#fff" stroke="#222" stroke-width="1.6"/>
<path d="M417.6 3033.6H488.3" stroke="#000" stroke-width="5.4"/>
<rect x="421.4" y="3074.5" width="63" height="62.3" fill="#008080" stroke="#000" stroke-width="1.5"/>
<text transform="translate(497.37 3052.5) scale(0.813 1)" font-size="57.5">Particle content, %</text>
<text transform="translate(497.36 3125) scale(0.814 1)" font-size="57.5">Fractional contribution, %</text>
</g>
</svg>
</body></html>
